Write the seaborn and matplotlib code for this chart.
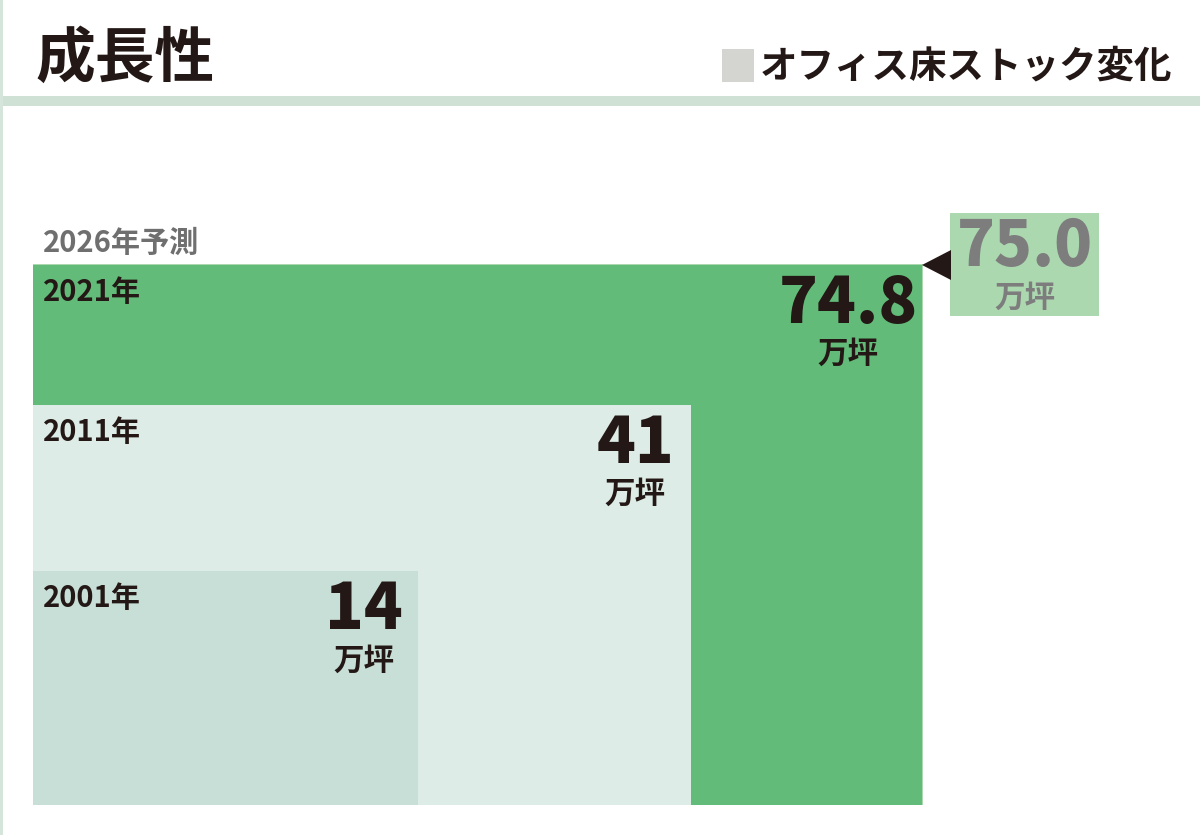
import numpy as np
import matplotlib
matplotlib.use("Agg")
import matplotlib.pyplot as plt
import seaborn as sns

# data
years = ["2001年", "2011年", "2021年"]
stock = [14, 41, 74.8]           # 万坪
value_labels = ["14", "41", "74.8"]
forecast_year = "2026年予測"
forecast_value = 75.0
forecast_label = "75.0"
unit = "万坪"
title = "成長性"
legend_text = "オフィス床ストック変化"

sns.set_theme(style="white")
plt.rcParams["font.family"] = ["Noto Sans CJK JP", "DejaVu Sans"]

colors = {"2001年": "#c8dfd7", "2011年": "#ddece6", "2021年": "#62bb78"}
ink = "#231815"
gray = "#7d7d7d"
forecast_color = "#acd8b0"

fig = plt.figure(figsize=(12, 8.35), dpi=100)
ax = fig.add_axes([0, 0, 1, 1])
ax.set_xlim(0, 1200)
ax.set_ylim(0, 835)
ax.axis("off")

# area-proportional nested rectangles, anchored at bottom-left
x0, y0 = 33, 30
kw, kh = 102.8, 62.44   # pixels per sqrt(万坪)

def size(v):
    return kw * np.sqrt(v), kh * np.sqrt(v)

# forecast outline behind the 2021 block
fw, fh = size(forecast_value)
ax.bar(x0, fh, width=fw, bottom=y0, align="edge", color=forecast_color, linewidth=0)

for yr, v in zip(years[::-1], stock[::-1]):
    w, h = size(v)
    ax.bar(x0, h, width=w, bottom=y0, align="edge", color=colors[yr], linewidth=0)

# labels inside blocks (number centre measured from block's right edge)
num_offset = [54, 56, 74]
for yr, v, lab, off in zip(years, stock, value_labels, num_offset):
    w, h = size(v)
    top = y0 + h
    right = x0 + w
    ax.text(x0 + 10, top - 27, yr, fontsize=21, fontweight="bold", color=ink,
            ha="left", va="center")
    ax.text(right - off, top - 39, lab, fontsize=46, fontweight="heavy", color=ink,
            ha="center", va="center")
    ax.text(right - off, top - 89, unit, fontsize=22, fontweight="bold", color=ink,
            ha="center", va="center")

# forecast label above
ax.text(x0 + 10, y0 + fh + 21, forecast_year, fontsize=21, fontweight="bold", color="#6f6f6f",
        ha="left", va="center")

# forecast callout box
bx, by, bw, bh = 950, 835 - 316, 149, 103
ax.bar(bx, bh, width=bw, bottom=by, align="edge", color=forecast_color, linewidth=0)
ax.text(bx + bw / 2, by + bh - 34, forecast_label, fontsize=45, fontweight="heavy", color=gray,
        ha="center", va="center")
ax.text(bx + bw / 2, by + 18, unit, fontsize=22, fontweight="bold", color=gray,
        ha="center", va="center")
ax.fill([922, 951, 951], [835 - 265, 835 - 250, 835 - 280], color=ink, linewidth=0)

# header
ax.text(35, 835 - 60, title, fontsize=43, fontweight="bold", color=ink, ha="left", va="center")
ax.bar(722, 33, width=32, bottom=835 - 82, align="edge", color="#d4d4d0", linewidth=0)
ax.text(760, 835 - 66, legend_text, fontsize=27, fontweight="bold", color=ink,
        ha="left", va="center")
ax.bar(0, 10, width=1200, bottom=835 - 106, align="edge", color="#cfe1d5", linewidth=0)
ax.bar(0, 835, width=3, bottom=0, align="edge", color="#d5e5dc", linewidth=0)

fig.savefig("out.png", dpi=100)
